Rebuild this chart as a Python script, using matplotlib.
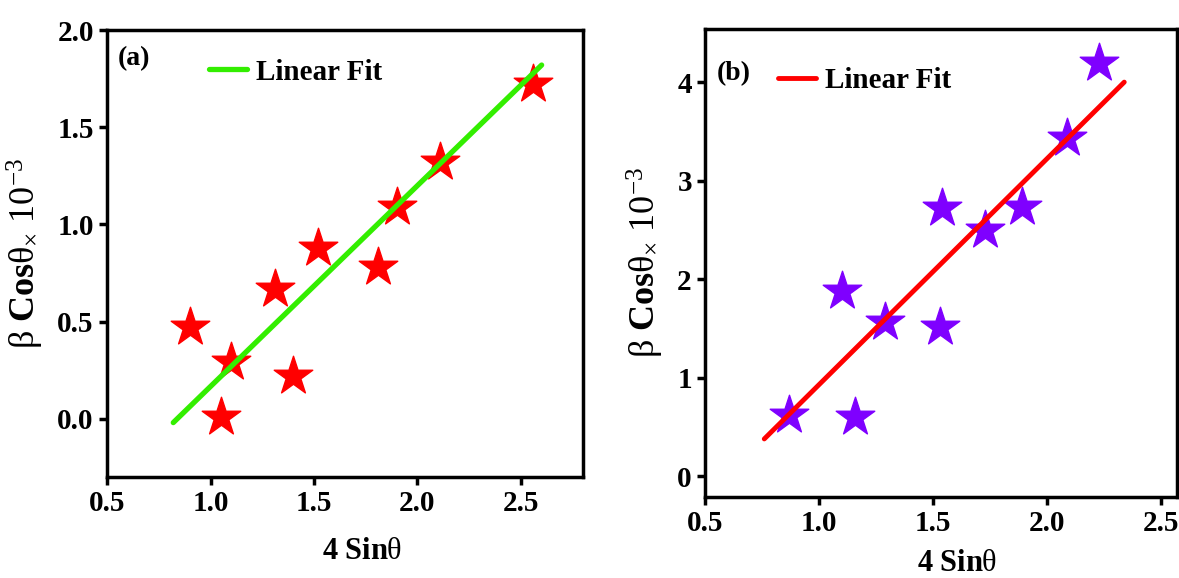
import numpy as np
import matplotlib
matplotlib.use("Agg")
import matplotlib.pyplot as plt

plt.rcParams['font.family'] = 'Liberation Serif'
plt.rcParams['mathtext.fontset'] = 'custom'
plt.rcParams['mathtext.rm'] = 'Liberation Serif'
plt.rcParams['mathtext.it'] = 'Liberation Serif:italic'
plt.rcParams['mathtext.bf'] = 'Liberation Serif:bold'

# panel (a) data
xa = [0.90, 1.05, 1.10, 1.31, 1.40, 1.52, 1.81, 1.90, 2.11, 2.56]
ya = [0.47, 0.01, 0.29, 0.67, 0.22, 0.88, 0.78, 1.09, 1.32, 1.72]
fit_xa = [0.82, 2.60]
fit_ya = [-0.02, 1.82]

# panel (b) data
xb = [0.87, 1.10, 1.16, 1.29, 1.53, 1.54, 1.73, 1.89, 2.09, 2.23]
yb = [0.62, 1.88, 0.60, 1.57, 1.52, 2.72, 2.50, 2.73, 3.43, 4.19]
fit_xb = [0.76, 2.34]
fit_yb = [0.38, 4.00]

xticks = [0.5, 1.0, 1.5, 2.0, 2.5]
yticks_a = [0.0, 0.5, 1.0, 1.5, 2.0]
yticks_b = [0, 1, 2, 3, 4]

fig = plt.figure(figsize=(11.79, 5.78), dpi=100)
ax1 = fig.add_axes([0.0908, 0.1747, 0.4037, 0.7733])
ax2 = fig.add_axes([0.598, 0.140, 0.400, 0.810])

ylabel = r'$\mathrm{β}\ \mathbf{Cos}\mathrm{θ}_{\times}\ \mathrm{10^{-3}}$'
xlabel = r'$\mathbf{4\ Sin}\mathrm{θ}$'


def style(ax, yticks, yfmt, xlab_y):
    for s in ax.spines.values():
        s.set_linewidth(2.5)
    ax.tick_params(axis='both', which='both', direction='out', length=6, width=2.5,
                   labelsize=21, top=False, right=False)
    ax.set_xticks(xticks)
    ax.set_xticklabels([f'{t:.1f}' for t in xticks], fontweight='bold')
    ax.set_yticks(yticks)
    ax.set_yticklabels([yfmt.format(t) for t in yticks], fontweight='bold')
    ax.set_xlabel(xlabel, fontsize=22)
    ax.xaxis.set_label_coords(0.535, xlab_y)
    ax.set_ylabel(ylabel, fontsize=26, labelpad=8)


# (a)
ax1.scatter(xa, ya, marker='*', s=850, color='#ff0000', zorder=2)
ax1.plot(fit_xa, fit_ya, color='#33ee00', lw=3.8, solid_capstyle='round', zorder=3,
         label='Linear Fit')
ax1.set_xlim(0.5, 2.8)
ax1.set_ylim(-0.3, 2.0)
style(ax1, yticks_a, '{:.1f}', -0.135)
ax1.text(0.022, 0.935, '(a)', transform=ax1.transAxes, fontsize=20, fontweight='bold',
         va='center')
ax1.legend(loc='upper left', bbox_to_anchor=(0.16, 0.995), frameon=False, handlelength=1.3,
           handletextpad=0.3, prop={'weight': 'bold', 'size': 21})

# (b)
ax2.scatter(xb, yb, marker='*', s=850, color='#7f00ff', zorder=2)
ax2.plot(fit_xb, fit_yb, color='#ff0000', lw=3.5, solid_capstyle='round', zorder=3,
         label='Linear Fit')
ax2.set_xlim(0.5, 2.57)
ax2.set_ylim(-0.21, 4.54)
style(ax2, yticks_b, '{:d}', -0.11)
ax2.text(0.025, 0.905, '(b)', transform=ax2.transAxes, fontsize=20, fontweight='bold',
         va='center')
ax2.legend(loc='upper left', bbox_to_anchor=(0.10, 0.975), frameon=False, handlelength=1.3,
           handletextpad=0.3, prop={'weight': 'bold', 'size': 21})

fig.savefig('out.png', dpi=100)
